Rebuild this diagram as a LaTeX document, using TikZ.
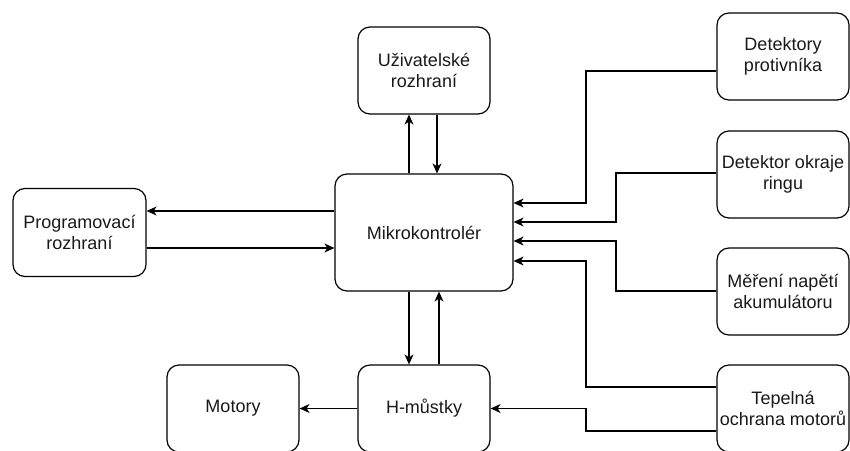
\documentclass[tikz,border=0pt]{standalone}
\usepackage{fontspec}
\setmainfont{Liberation Sans}
\usetikzlibrary{arrows.meta,calc}
\begin{document}
\begin{tikzpicture}[x=1pt,y=-1pt,
  box/.style={draw=black,line width=1.2pt,rounded corners=12pt,align=center,
    inner sep=0pt,font=\fontsize{18}{21.6}\selectfont,text=black!90},
  sbox/.style={box,minimum width=132pt,minimum height=87pt},
  conn/.style={line width=1.2pt,-{Stealth[length=10pt,width=9pt,inset=3pt]}}]
\useasboundingbox (0,0) rectangle (850,450);
\clip (0,0) rectangle (850,450);
\fill[white] (0,0) rectangle (850,450);
% nodes
\node[sbox] (uz) at (424,70.5) {Uživatelské\\rozhraní};
\node[sbox] (det1) at (783,56.5) {Detektory\\protivníka};
\node[sbox] (det2) at (783,174.5) {Detektor okraje\\ringu};
\node[sbox] (mer) at (783,291.5) {Měření napětí\\akumulátoru};
\node[sbox] (tep) at (783,408.5) {Tepelná\\ochrana motorů};
\node[box,minimum width=133pt,minimum height=88pt] (prog) at (79.5,232.5) {Programovací\\rozhraní};
\node[box,minimum width=178pt,minimum height=117pt] (mik) at (424,232.5) {Mikrokontrolér};
\node[sbox] (mot) at (233,408.5) {Motory};
\node[sbox] (hm) at (424,408.5) {H-můstky};
% helper coordinates
\coordinate (c1) at (586,71);
\coordinate (c2) at (616,173);
\coordinate (c3) at (616,291);
\coordinate (c4) at (586,387);
\coordinate (c5) at (586,431);
% connectors
\draw[conn] ([xshift=-15pt]mik.north) -- ([xshift=-15pt]mik.north |- uz.south);
\draw[conn] ([xshift=13pt]uz.south) -- ([xshift=13pt]uz.south |- mik.north);
\draw[conn] ([yshift=21.5pt]mik.west) -- ([yshift=21.5pt]mik.west -| prog.east);
\draw[conn] ([yshift=-15.5pt]prog.east) -- ([yshift=-15.5pt]prog.east -| mik.west);
\draw[conn] ([xshift=-15pt]mik.south) -- ([xshift=-15pt]mik.south |- hm.north);
\draw[conn] ([xshift=15pt]hm.north) -- ([xshift=15pt]hm.north |- mik.south);
\draw[conn] (hm.west) -- (mot.east);
\draw[conn] (det1.west |- c1) -- (c1) |- ([yshift=29.5pt]mik.east);
\draw[conn] (det2.west |- c2) -- (c2) |- ([yshift=10.5pt]mik.east);
\draw[conn] (mer.west |- c3) -- (c3) |- ([yshift=-8.5pt]mik.east);
\draw[conn] (tep.west |- c4) -- (c4) |- ([yshift=-28.5pt]mik.east);
\draw[conn] (tep.west |- c5) -- (c5) |- (hm.east);
\end{tikzpicture}
\end{document}
